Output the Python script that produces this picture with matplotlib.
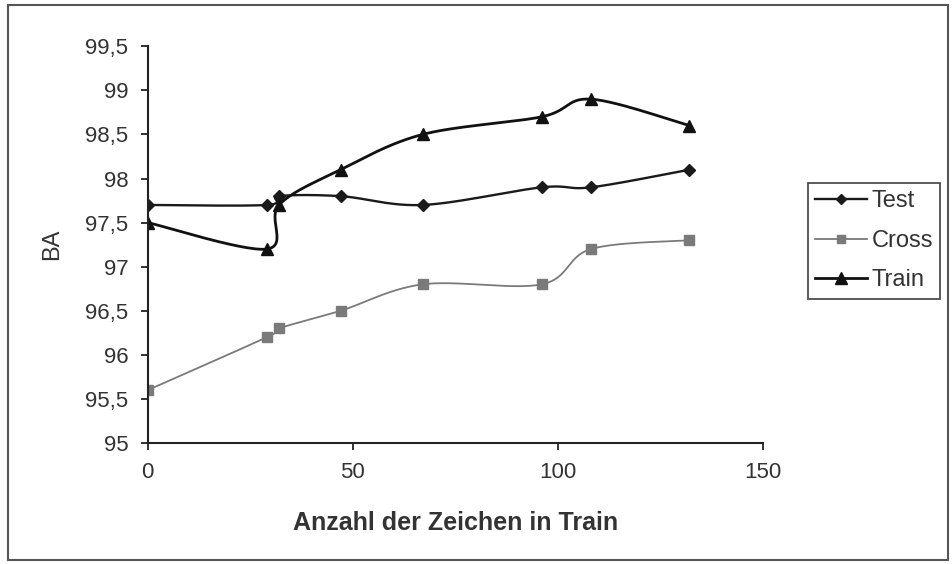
import numpy as np
import matplotlib
matplotlib.use("Agg")
from matplotlib import pyplot as plt
from matplotlib.patches import Rectangle
from matplotlib.ticker import FuncFormatter

plt.rcParams['font.family'] = ['Liberation Sans', 'DejaVu Sans']

zeichen = [0, 29, 32, 47, 67, 96, 108, 132]
test = [97.7, 97.7, 97.8, 97.8, 97.7, 97.9, 97.9, 98.1]
cross = [95.6, 96.2, 96.3, 96.5, 96.8, 96.8, 97.2, 97.3]
train = [97.5, 97.2, 97.7, 98.1, 98.5, 98.7, 98.9, 98.6]

x_ticks = [0, 50, 100, 150]
y_ticks = [95, 95.5, 96, 96.5, 97, 97.5, 98, 98.5, 99, 99.5]


def smooth(xs, ys, n=30):
    # Bezier smoothing through the points, like spreadsheet "smoothed lines"
    p = np.column_stack([xs, ys]).astype(float)
    out = [p[0]]
    for i in range(len(p) - 1):
        p0 = p[i - 1] if i > 0 else p[i]
        p3 = p[i + 2] if i + 2 < len(p) else p[i + 1]
        c1 = p[i] + (p[i + 1] - p0) / 6.0
        c2 = p[i + 1] - (p3 - p[i]) / 6.0
        t = np.linspace(0, 1, n)[1:, None]
        seg = ((1 - t) ** 3 * p[i] + 3 * (1 - t) ** 2 * t * c1
               + 3 * (1 - t) * t ** 2 * c2 + t ** 3 * p[i + 1])
        out.extend(seg)
    out = np.array(out)
    return out[:, 0], out[:, 1]


fig = plt.figure(figsize=(9.53, 5.64), dpi=100)
ax = fig.add_axes([0.155, 0.2145, 0.646, 0.7035])

series = [
    ("Test", test, "#1a1a1a", "D", 6, 1.7),
    ("Cross", cross, "#7a7a7a", "s", 7, 1.3),
    ("Train", train, "#111111", "^", 9, 2.0),
]
handles = []
for name, vals, col, mk, ms, lw in series:
    sx, sy = smooth(zeichen, vals)
    ax.plot(sx, sy, color=col, lw=lw)
    ax.plot(zeichen, vals, ls="none", marker=mk, ms=ms, color=col)
    h, = ax.plot([], [], color=col, lw=lw, marker=mk, ms=ms * 0.9, label=name)
    handles.append(h)

ax.set_xlim(0, 150)
ax.set_ylim(95, 99.5)
ax.set_xticks(x_ticks)
ax.set_yticks(y_ticks)
ax.yaxis.set_major_formatter(FuncFormatter(lambda v, _: f"{v:g}".replace(".", ",")))
for side in ("top", "right"):
    ax.spines[side].set_visible(False)
for side in ("left", "bottom"):
    ax.spines[side].set_color("#222222")
    ax.spines[side].set_linewidth(1.5)
ax.tick_params(direction="out", length=5, width=1.3, colors="#222222",
               labelsize=16, labelcolor="#333333", pad=9)

ax.set_xlabel("Anzahl der Zeichen in Train", fontsize=18, fontweight="bold",
              color="#333333", labelpad=20)
ax.set_ylabel("BA", fontsize=17, color="#333333", labelpad=16)

leg = fig.legend(handles=handles, loc="upper left",
                 bbox_to_anchor=(808 / 953, 1 - 183 / 564),
                 fontsize=17, frameon=True, fancybox=False,
                 handlelength=2.2, borderpad=0.3, labelspacing=0.75,
                 handletextpad=0.2, borderaxespad=0)
leg.get_frame().set_edgecolor("#222222")
leg.get_frame().set_linewidth(1.3)
for t in leg.get_texts():
    t.set_color("#333333")

# frame around the whole chart
fig.patches.append(Rectangle((8 / 953, 4 / 564), 940 / 953, 555 / 564,
                             transform=fig.transFigure, fill=False,
                             edgecolor="#555555", lw=1.5))

fig.savefig("out.png", dpi=100)
